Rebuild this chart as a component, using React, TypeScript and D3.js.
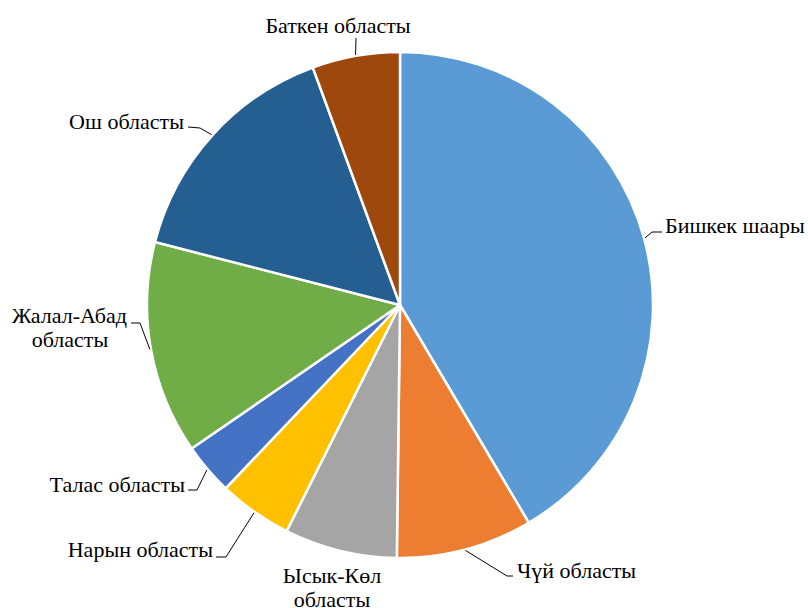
import React from "react";
import * as d3 from "d3";

const categories = [
  "Бишкек шаары",
  "Чүй областы",
  "Ысык-Көл областы",
  "Нарын областы",
  "Талас областы",
  "Жалал-Абад областы",
  "Ош областы",
  "Баткен областы",
];
const values = [41.5, 8.7, 7.2, 4.7, 3.3, 13.6, 15.4, 5.6];
const colors = ["#5B9BD5", "#ED7D31", "#A5A5A5", "#FFC000", "#4472C4", "#70AD47", "#255E91", "#9E480E"];

type Lay = { lines: string[]; anchor: string; x: number; y: number; elbow?: [number, number]; end?: [number, number]; leader: boolean; x2?: number };
const layouts: Lay[] = [
  { lines: ["Бишкек шаары"], anchor: "start", x: 665, y: 233, elbow: [652, 232], end: [662, 232], leader: true },
  { lines: ["Чүй областы"], anchor: "start", x: 517, y: 578, elbow: [507, 576], end: [513, 576], leader: true },
  { lines: ["Ысык-Көл", "областы"], anchor: "middle", x: 332, y: 583, leader: false },
  { lines: ["Нарын областы"], anchor: "end", x: 213, y: 557, elbow: [226, 557], end: [216, 557], leader: true },
  { lines: ["Талас областы"], anchor: "end", x: 185, y: 492, elbow: [197, 490], end: [188, 490], leader: true },
  { lines: ["Жалал-Абад", "областы"], anchor: "end", x: 127, y: 323, elbow: [140, 323], end: [131, 323], leader: true, x2: 70 },
  { lines: ["Ош областы"], anchor: "end", x: 184, y: 129, elbow: [200, 128], end: [188, 127], leader: true },
  { lines: ["Баткен областы"], anchor: "middle", x: 338, y: 33, elbow: [356, 38], end: [356, 38], leader: true },
];

export default function App() {
  const W = 808, H = 608;
  const cx = 400, cy = 305, r = 253;
  const pie = d3.pie<number>().sort(null).value((d) => d)(values);
  const arc = d3.arc<d3.PieArcDatum<number>>().innerRadius(0).outerRadius(r);
  const font = `"Liberation Serif"`;
  const ts = { fontFamily: font, fontSize: "22px" };
  return (
    <svg width={W} height={H} style={{ position: "absolute", left: 0, top: 0, fontFamily: font }}>
      <rect width={W} height={H} fill="#fff" />
      <g transform={`translate(${cx},${cy})`}>
        {pie.map((p, i) => (
          <path key={i} d={arc(p) || ""} fill={colors[i]} stroke="#fff" strokeWidth={2.5} strokeLinejoin="round" />
        ))}
      </g>
      {pie.map((p, i) => {
        const L = layouts[i];
        const mid = (p.startAngle + p.endAngle) / 2;
        const sx = cx + (r + 1) * Math.sin(mid);
        const sy = cy - (r + 1) * Math.cos(mid);
        const pts = L.leader && L.elbow && L.end ? [[sx, sy], L.elbow, L.end] : [];
        return (
          <g key={i}>
            {pts.length > 0 && (
              <polyline points={pts.map((q) => q.join(",")).join(" ")} fill="none" stroke="#000" strokeWidth={1} />
            )}
            {L.lines.map((ln, j) => {
              const x = j > 0 && L.x2 !== undefined ? L.x2 : L.x;
              const anchor = j > 0 && L.x2 !== undefined ? "middle" : L.anchor;
              return (
                <text key={j} x={x} y={L.y + j * 24} textAnchor={anchor as any} style={ts} fill="#000">
                  {ln}
                </text>
              );
            })}
          </g>
        );
      })}
    </svg>
  );
}
